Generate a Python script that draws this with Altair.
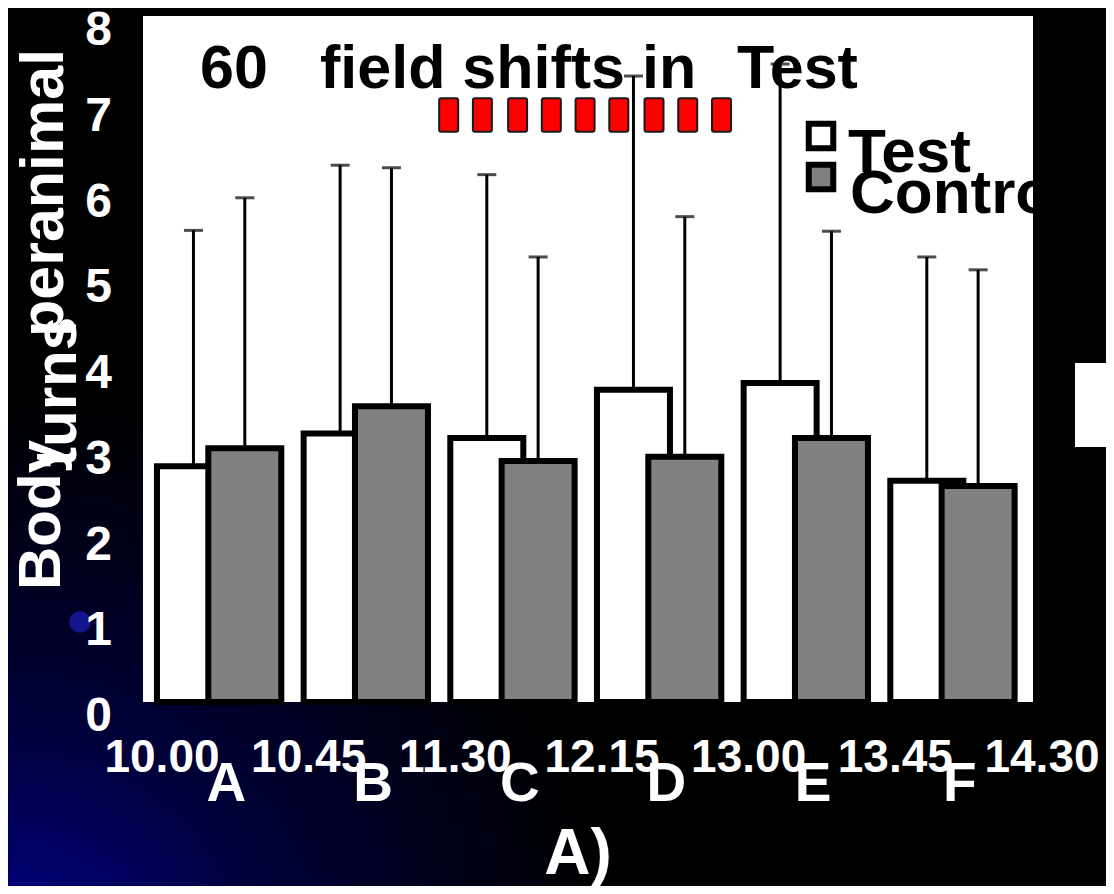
import altair as alt
import pandas as pd

# ---------------- data ----------------
groups = ["A", "B", "C", "D", "E", "F"]
time_labels = ["10.00", "10.45", "11.30", "12.15", "13.00", "13.45", "14.30"]
y_ticks = [0, 1, 2, 3, 4, 5, 6, 7, 8]
test_mean = [2.75, 3.13, 3.08, 3.64, 3.72, 2.58]
test_err_top = [5.50, 6.26, 6.15, 7.30, 7.44, 5.19]
control_mean = [2.96, 3.45, 2.81, 2.86, 3.08, 2.52]
control_err_top = [5.88, 6.23, 5.19, 5.66, 5.49, 5.04]
series_names = ["Test", "Control"]
series_colors = ["#ffffff", "#808080"]
# field-shift markers (x in group units, y band in axis units)
shift_marks = [2.05, 2.28, 2.52, 2.75, 2.98, 3.21, 3.45, 3.68, 3.91]
shift_low = 6.65
shift_high = 7.04

W, H = 890, 686
PAD = {"left": 135, "top": 8, "right": 73, "bottom": 184}
FONT = "Liberation Sans"

rows = []
for i, g in enumerate(groups):
    rows.append(dict(idx=i, group=g, series="Test", mean=test_mean[i], top=test_err_top[i]))
    rows.append(dict(idx=i, group=g, series="Control", mean=control_mean[i], top=control_err_top[i]))
df = pd.DataFrame(rows)
df_groups = pd.DataFrame({"idx": list(range(len(groups))), "group": groups})
df_times = pd.DataFrame({"idx": list(range(len(time_labels))), "label": time_labels})
df_yticks = pd.DataFrame({"v": y_ticks, "label": [str(v) for v in y_ticks]})
df_marks = pd.DataFrame({"pos": shift_marks, "lo": [shift_low] * len(shift_marks),
                         "hi": [shift_high] * len(shift_marks)})
one = pd.DataFrame({"k": [0]})

xs = alt.Scale(domain=[0, 6], nice=False, zero=False)
ys = alt.Scale(domain=[0, 8], nice=False)

# ---------------- decoration: background ----------------
bg = alt.Chart(one).mark_rect(
    fill={"gradient": "radial", "x1": 0, "y1": 1, "r1": 0, "x2": 0, "y2": 1, "r2": 0.55,
          "stops": [{"offset": 0, "color": "#000098"},
                    {"offset": 0.45, "color": "#00003a"},
                    {"offset": 1, "color": "#000000"}]}
).encode(x=alt.value(-PAD["left"]), x2=alt.value(W + PAD["right"]),
         y=alt.value(-PAD["top"]), y2=alt.value(H + PAD["bottom"]))

dot = alt.Chart(one).mark_circle(color="#14148c", opacity=1, size=460).encode(
    x=alt.value(-63), y=alt.value(606))

plot_bg = alt.Chart(one).mark_rect(color="white").encode(
    x=alt.value(0), x2=alt.value(W), y=alt.value(0), y2=alt.value(H))

side_box = alt.Chart(one).mark_rect(color="white").encode(
    x=alt.value(932), x2=alt.value(W + PAD["right"]), y=alt.value(347), y2=alt.value(431))

# ---------------- bars ----------------
base = alt.Chart(df).transform_calculate(
    xpos="datum.idx + (datum.series == 'Test' ? 0.31 : 0.66)")

color_enc = alt.Color("series:N", scale=alt.Scale(domain=series_names, range=series_colors),
                      legend=None)

test_bars = base.transform_filter("datum.series == 'Test'").mark_bar(
    size=73, stroke="black", strokeWidth=6, opacity=1).encode(
    x=alt.X("xpos:Q", scale=xs, axis=None),
    y=alt.Y("mean:Q", scale=ys, axis=None),
    color=color_enc)

control_bars = base.transform_filter("datum.series == 'Control'").mark_bar(
    size=73, stroke="black", strokeWidth=6, opacity=1).encode(
    x=alt.X("xpos:Q", scale=xs, axis=None),
    y=alt.Y("mean:Q", scale=ys, axis=None),
    color=color_enc)

err_rule = base.mark_rule(color="black", strokeWidth=3).encode(
    x=alt.X("xpos:Q", scale=xs, axis=None),
    y=alt.Y("mean:Q", scale=ys, axis=None),
    y2="top:Q")

err_cap = base.mark_tick(color="black", thickness=3, size=19, orient="horizontal").encode(
    x=alt.X("xpos:Q", scale=xs, axis=None),
    y=alt.Y("top:Q", scale=ys, axis=None))

markers = alt.Chart(df_marks).mark_bar(
    size=19, color="#ff0000", stroke="#1a1a1a", strokeWidth=2, cornerRadius=2, opacity=1
).encode(x=alt.X("pos:Q", scale=xs, axis=None),
         y=alt.Y("lo:Q", scale=ys, axis=None), y2="hi:Q")

# ---------------- tick labels (through the scales) ----------------
y_labels = alt.Chart(df_yticks).mark_text(
    font=FONT, fontWeight="bold", fontSize=48, color="white", align="right",
    baseline="middle", dy=15).encode(
    x=alt.value(-31), y=alt.Y("v:Q", scale=ys, axis=None), text="label:N")

x_labels = alt.Chart(df_times).mark_text(
    font=FONT, fontWeight="bold", fontSize=46, color="white", align="center",
    baseline="middle", dx=14).encode(
    x=alt.X("idx:Q", scale=xs, axis=None), y=alt.value(H + 56), text="label:N")

# ---------------- texts ----------------
def txt(s, x, y, size, color="black", align="left", baseline="alphabetic", angle=0):
    kw = dict(font=FONT, fontWeight="bold", fontSize=size, color=color,
              align=align, baseline=baseline, text=s)
    if angle:
        kw["angle"] = angle
    return alt.Chart(one).mark_text(**kw).encode(x=alt.value(x), y=alt.value(y))

title_parts = [
    txt("60", 57, 72, 61),
    txt("field shifts in", 177, 72, 61),
    txt("Test", 594, 72, 61),
]

legend_sq = [
    alt.Chart(one).mark_point(shape="square", filled=True, size=600, fill=series_colors[0],
                              stroke="black", strokeWidth=6, opacity=1
                              ).encode(x=alt.value(678), y=alt.value(120)),
    alt.Chart(one).mark_point(shape="square", filled=True, size=600, fill=series_colors[1],
                              stroke="black", strokeWidth=6, opacity=1
                              ).encode(x=alt.value(678), y=alt.value(161)),
]
legend_txt = [
    txt(series_names[0], 705, 156, 62),
    txt(series_names[1], 707, 197, 62),
]

letters = alt.Chart(df_groups).transform_calculate(cx="datum.idx + 0.535").mark_text(
    font=FONT, fontWeight="bold", fontSize=55, color="white", align="center",
    baseline="middle").encode(
    x=alt.X("cx:Q", scale=xs, axis=None), y=alt.value(768), text="group:N")

panel_label = txt("A)", 435, 839, 64, color="white", align="center", baseline="middle")

y_title = [
    txt("Body", -83, 574, 60, color="white", angle=270),
    txt("turns", -67, 451, 60, color="white", angle=270),
    txt("peranimal", -80, 321, 61, color="white", angle=270),
]

chart = alt.layer(
    bg, dot, plot_bg, side_box,
    test_bars, control_bars, err_rule, err_cap, markers,
    y_labels, x_labels,
    *title_parts, *legend_sq, *legend_txt, letters, panel_label, *y_title
).properties(
    width=W, height=H,
    autosize=alt.AutoSizeParams(type="none"),
    padding=PAD,
    background="black",
).configure_view(strokeWidth=0)

chart.save("out.html", embed_options={"renderer": "svg", "actions": False})
